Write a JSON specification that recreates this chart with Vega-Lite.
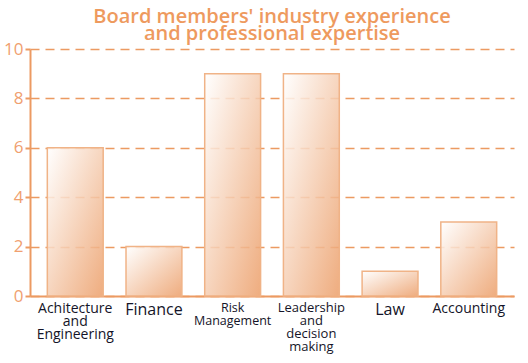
{
  "$schema": "https://vega.github.io/schema/vega-lite/v6.json",
  "width": 528,
  "height": 363,
  "autosize": {"type": "fit", "contains": "padding"},
  "padding": {"left": 3, "top": 7, "right": 14, "bottom": 10},
  "background": "white",
  "title": {
    "text": ["Board members' industry experience", "and professional expertise"],
    "fontSize": 20,
    "font": "Open Sans",
    "fontWeight": 600,
    "color": "#EE9A5E",
    "lineHeight": 17,
    "anchor": "middle",
    "offset": -4
  },
  "data": {
    "values": [
      {"category": "Achitecture and Engineering", "value": 6},
      {"category": "Finance", "value": 2},
      {"category": "Risk Management", "value": 9},
      {"category": "Leadership and decision making", "value": 9},
      {"category": "Law", "value": 1},
      {"category": "Accounting", "value": 3}
    ]
  },
  "config": {
    "view": {"stroke": null},
    "font": "Open Sans"
  },
  "mark": {
    "type": "bar",
    "fill": {
      "gradient": "linear",
      "x1": 0, "y1": 0, "x2": 1, "y2": 1,
      "stops": [
        {"offset": 0, "color": "#FFFFFF"},
        {"offset": 1, "color": "#EC9F6A"}
      ]
    },
    "fillOpacity": 0.86,
    "stroke": "#F0B387",
    "strokeWidth": 1.5
  },
  "encoding": {
    "x": {
      "field": "category",
      "type": "nominal",
      "sort": null,
      "scale": {"paddingInner": 0.29, "paddingOuter": 0.22},
      "axis": {
        "title": null,
        "labelAngle": 0,
        "ticks": false,
        "domainColor": "#EC9A62",
        "domainWidth": 2,
        "labelColor": "#141428",
        "labelFont": "Open Sans",
        "labelFontSize": {"condition": [
          {"test": "datum.value == 'Finance' || datum.value == 'Law'", "value": 16},
          {"test": "datum.value == 'Accounting' || datum.value == 'Achitecture and Engineering'", "value": 14},
          {"test": "datum.value == 'Risk Management'", "value": 12.5}
        ], "value": 13},
        "labelLineHeight": 13,
        "labelPadding": 5,
        "labelBaseline": "top",
        "labelExpr": "datum.value == 'Achitecture and Engineering' ? ['Achitecture', 'and', 'Engineering'] : datum.value == 'Risk Management' ? ['Risk', 'Management'] : datum.value == 'Leadership and decision making' ? ['Leadership', 'and', 'decision', 'making'] : datum.value",
        "grid": false
      }
    },
    "y": {
      "field": "value",
      "type": "quantitative",
      "scale": {"domain": [0, 10]},
      "axis": {
        "title": null,
        "values": [0, 2, 4, 6, 8, 10],
        "domainColor": "#EC9A62",
        "domainWidth": 2,
        "tickColor": "#EC9A62",
        "tickSize": 5,
        "tickWidth": 2,
        "labelColor": "#F0A070",
        "labelFontSize": 17,
        "labelFont": "Open Sans",
        "labelPadding": 2,
        "grid": true,
        "gridColor": "#EC9A62",
        "gridDash": [9, 6],
        "gridWidth": 1.5
      }
    }
  }
}
